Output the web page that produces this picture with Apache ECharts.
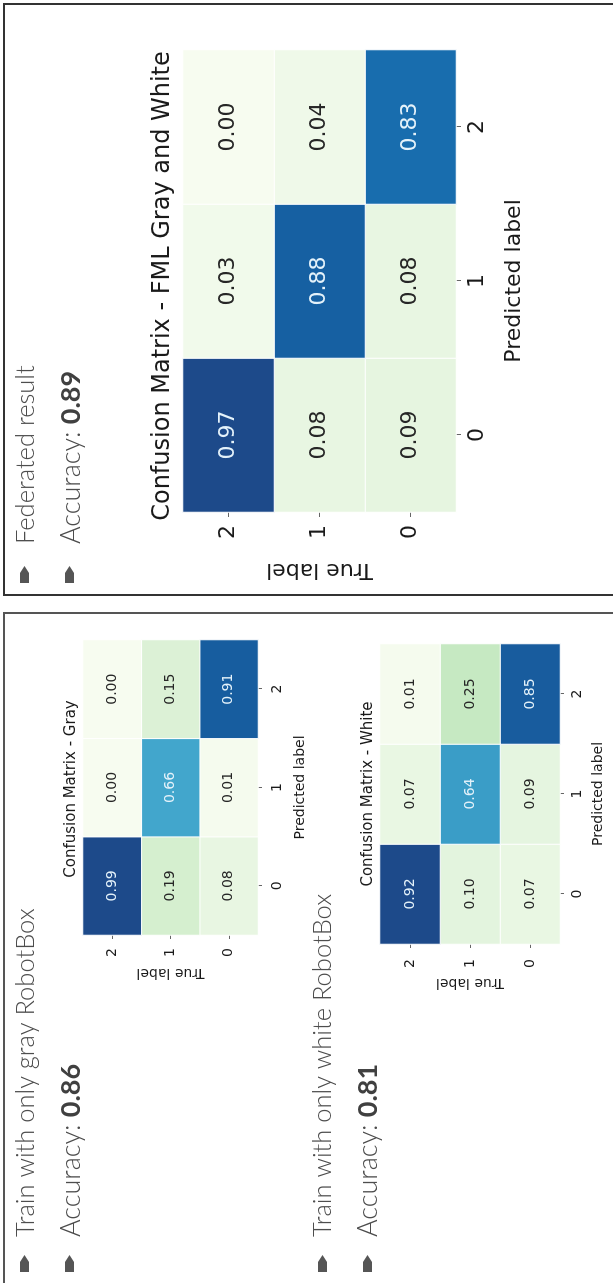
<!DOCTYPE html>
<html><head><meta charset="utf-8">
<script src="https://cdn.jsdelivr.net/npm/echarts@6/dist/echarts.min.js"></script>
<style>
html,body{margin:0;padding:0;width:613px;height:1283px;overflow:hidden;background:#fff;}
#slide{position:absolute;left:0;top:0;width:1283px;height:613px;transform-origin:0 0;transform:translate(0,1283px) rotate(-90deg);background:#fff;}
</style></head><body><div id="slide"></div>
<script>
// Tick labels (predicted / true classes)
const classLabels = ['0', '1', '2'];
// Titles
const fedTitle = 'Confusion Matrix - FML Gray and White';
const grayTitle = 'Confusion Matrix - Gray';
const whiteTitle = 'Confusion Matrix - White';
// Matrices: rows = true label 0,1,2 ; columns = predicted label 0,1,2
const fedMatrix   = [[0.09, 0.08, 0.83], [0.08, 0.88, 0.04], [0.97, 0.03, 0.00]];
const grayMatrix  = [[0.08, 0.01, 0.91], [0.19, 0.66, 0.15], [0.99, 0.00, 0.00]];
const whiteMatrix = [[0.07, 0.09, 0.85], [0.10, 0.64, 0.25], [0.92, 0.07, 0.01]];
// Slide texts
const fedLines   = ['Federated result', 'Accuracy: ', '0.89'];
const grayLines  = ['Train with only gray RobotBox', 'Accuracy: ', '0.86'];
const whiteLines = ['Train with only white RobotBox', 'Accuracy: ', '0.81'];

const GnBu = ['#f7fcf0','#e0f3db','#ccebc5','#a8ddb5','#7bccc4','#4eb3d3','#2b8cbe','#1467ab','#1d4a8a'];
const HM_FONT = 'DejaVu Sans';
const SLIDE_FONT = 'Lato';

function matMax(m){ return Math.max.apply(null, m.flat()); }
function toData(m){
  const mx = matMax(m);
  const out = [];
  for (let t = 0; t < 3; t++) for (let p = 0; p < 3; p++) {
    const v = m[t][p];
    out.push({ value: [p, t, v], label: { color: v / mx > 0.5 ? '#e4f2fa' : '#262626' } });
  }
  return out;
}

const panels = [
  { m: fedMatrix,   title: fedTitle,   grid: {left: 771, top: 183, width: 462, height: 273}, fs: 22, tfs: 24, titleTop: 151, titleX: 997,
    xMargin: 10, yMargin: 13, xNameGap: 47, yNameGap: 47, tick: 5 },
  { m: grayMatrix,  title: grayTitle,  grid: {left: 348, top: 83,  width: 295, height: 175}, fs: 14, tfs: 15, titleTop: 64, titleX: 494,
    xMargin: 12, yMargin: 13, xNameGap: 35, yNameGap: 31, tick: 4 },
  { m: whiteMatrix, title: whiteTitle, grid: {left: 339, top: 380, width: 300, height: 180}, fs: 14, tfs: 15, titleTop: 361, titleX: 489,
    xMargin: 10, yMargin: 15, xNameGap: 31, yNameGap: 32, tick: 4 }
];

const option = {
  animation: false,
  backgroundColor: '#fff',
  title: panels.map(p => ({
    text: p.title, left: p.titleX, top: p.titleTop, textAlign: 'center', padding: 0,
    textStyle: { fontFamily: HM_FONT, fontSize: p.tfs, fontWeight: 'normal', color: '#1a1a1a' }
  })),
  grid: panels.map(p => p.grid),
  xAxis: panels.map((p, i) => ({
    type: 'category', gridIndex: i, data: classLabels, position: 'bottom',
    axisLine: { show: false }, splitLine: { show: false },
    axisTick: { show: true, alignWithLabel: true, length: p.tick, lineStyle: { color: '#666' } },
    axisLabel: { fontFamily: HM_FONT, fontSize: p.fs, color: '#1a1a1a', margin: p.xMargin },
    name: 'Predicted label', nameLocation: 'middle', nameGap: p.xNameGap,
    nameTextStyle: { fontFamily: HM_FONT, fontSize: p.fs, color: '#1a1a1a' }
  })),
  yAxis: panels.map((p, i) => ({
    type: 'category', gridIndex: i, data: classLabels,
    axisLine: { show: false }, splitLine: { show: false },
    axisTick: { show: true, alignWithLabel: true, length: p.tick, lineStyle: { color: '#666' } },
    axisLabel: { fontFamily: HM_FONT, fontSize: p.fs, color: '#1a1a1a', margin: p.yMargin },
    name: 'True label', nameLocation: 'middle', nameGap: p.yNameGap, nameRotate: 90,
    nameTextStyle: { fontFamily: HM_FONT, fontSize: p.fs, color: '#1a1a1a' }
  })),
  visualMap: panels.map((p, i) => ({
    show: false, type: 'continuous', seriesIndex: i, dimension: 2,
    min: 0, max: matMax(p.m), inRange: { color: GnBu }
  })),
  series: panels.map((p, i) => ({
    type: 'heatmap', xAxisIndex: i, yAxisIndex: i, data: toData(p.m),
    itemStyle: { borderColor: '#ffffff', borderWidth: 1 },
    label: { show: true, fontFamily: HM_FONT, fontSize: p.fs,
             formatter: d => d.value[2].toFixed(2) },
    emphasis: { disabled: true }
  })),
  graphic: []
};

const TXT_FS = 25.5;
const ACC_FS = 27;
function bullet(x, y){
  return { type: 'polygon', shape: { points: [[x, y], [x + 10, y], [x + 17, y + 4.5], [x + 10, y + 9], [x, y + 9]] },
           style: { fill: '#555555' }, silent: true };
}
function line(text, x, y){
  return { type: 'text', x: x, y: y, silent: true,
           style: { text: text, fontFamily: SLIDE_FONT, fontSize: TXT_FS, fontWeight: 300, fill: '#4d4d4d', verticalAlign: 'middle' } };
}
function acc(lines, x, y){
  return { type: 'text', x: x, y: y, silent: true,
           style: { text: lines[1] + '{b|' + lines[2] + '}', fontFamily: SLIDE_FONT, fontSize: ACC_FS, fontWeight: 300, fill: '#4d4d4d',
                    verticalAlign: 'middle',
                    rich: { b: { fontFamily: SLIDE_FONT, fontSize: ACC_FS, fontWeight: 'bold', fill: '#404040' } } } };
}

option.graphic = [
  // panel borders
  { type: 'rect', shape: { x: 688, y: 4, width: 591, height: 700 }, style: { fill: 'none', stroke: '#333', lineWidth: 2 }, silent: true },
  { type: 'rect', shape: { x: -20, y: 4, width: 690, height: 700 }, style: { fill: 'none', stroke: '#555', lineWidth: 2 }, silent: true },
  // federated panel texts
  bullet(700, 20), line(fedLines[0], 739, 26),
  bullet(700, 65), acc(fedLines, 739, 71),
  // gray
  bullet(11, 20), line(grayLines[0], 46, 26),
  bullet(11, 65), acc(grayLines, 46, 71),
  // white
  bullet(11, 318), line(whiteLines[0], 46, 323),
  bullet(11, 363), acc(whiteLines, 46, 368)
];

const chart = echarts.init(document.getElementById('slide'), null, { renderer: 'canvas', width: 1283, height: 613 });
chart.setOption(option);
</script>
</body></html>
